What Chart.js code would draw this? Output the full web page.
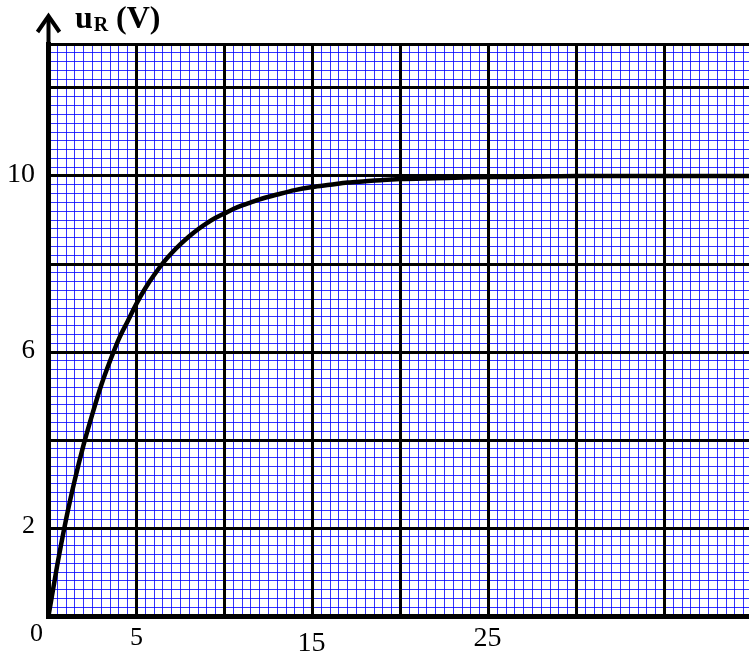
<!DOCTYPE html>
<html>
<head>
<meta charset="utf-8">
<script src="https://cdn.jsdelivr.net/npm/chart.js@4/dist/chart.umd.min.js"></script>
<style>
  html, body { margin: 0; padding: 0; background: #fff; overflow: hidden; }
  canvas { display: block; }
</style>
</head>
<body>
<canvas id="draw-on-me" width="760" height="655"></canvas>
<script>
'use strict';

// time t (x axis) and voltage u_R
const tValues = [0, 0.5, 1, 1.5, 2, 2.5, 3, 3.5, 4, 4.5, 5, 5.5, 6, 6.5, 7, 7.5, 8, 8.5, 9, 9.5, 10,
  10.5, 11, 11.5, 12, 13, 14, 15, 16, 17, 18, 19, 20, 22, 24, 26, 28, 30, 35, 40];
const uValues = [0, 1.16, 2.2, 3.1, 3.9, 4.6, 5.25, 5.8, 6.3, 6.7, 7.1, 7.45, 7.75, 8.02, 8.25, 8.45, 8.63, 8.79, 8.93, 9.05, 9.15,
  9.25, 9.33, 9.4, 9.47, 9.58, 9.68, 9.75, 9.8, 9.85, 9.88, 9.91, 9.93, 9.95, 9.97, 9.98, 9.99, 10, 10, 10];

// tick labels printed on the paper
const xTickLabels = [0, 5, 15, 25];
const yTickLabels = [10, 6, 2];
const axisTitle = { main: 'u', sub: 'R', unit: '(V)' };

const canvasEl = document.getElementById('draw-on-me');
const drawingContext = canvasEl.getContext('2d');

const SERIF = '"Liberation Serif", "Times New Roman", serif';

// hand placed labels are a bit uneven on the original
const xLabelStyle = [
  { dx: -12, base: 25, size: 26 },
  { dx: 0, base: 29, size: 26 },
  { dx: -1, base: 35, size: 28 },
  { dx: -1, base: 30, size: 28 }
];
const yLabelStyle = [
  { base: 6, size: 28 },
  { base: 6, size: 27 },
  { base: 5, size: 26 }
];

const paperLabels = {
  id: 'paperLabels',
  afterDraw(chart) {
    const ctx = chart.ctx;
    const xs = chart.scales.x;
    const ys = chart.scales.y;
    ctx.save();
    ctx.fillStyle = '#000';
    ctx.textBaseline = 'alphabetic';

    ctx.textAlign = 'center';
    xTickLabels.forEach((v, i) => {
      const st = xLabelStyle[i];
      ctx.font = st.size + 'px ' + SERIF;
      ctx.fillText(String(v), xs.getPixelForValue(v) + st.dx, ys.bottom + st.base);
    });

    ctx.textAlign = 'right';
    yTickLabels.forEach((v, i) => {
      const st = yLabelStyle[i];
      ctx.font = st.size + 'px ' + SERIF;
      ctx.fillText(String(v), 35, ys.getPixelForValue(v) + st.base);
    });

    // arrow on the vertical axis
    const ax = xs.left;
    ctx.strokeStyle = '#000';
    ctx.lineWidth = 4;
    ctx.lineCap = 'butt';
    ctx.beginPath();
    ctx.moveTo(ax, ys.top);
    ctx.lineTo(ax, 16);
    ctx.stroke();
    ctx.lineJoin = 'miter';
    ctx.beginPath();
    ctx.moveTo(ax - 11, 32);
    ctx.lineTo(ax, 16);
    ctx.lineTo(ax + 11, 32);
    ctx.stroke();

    // axis title u_R (V)
    ctx.textAlign = 'left';
    ctx.font = 'bold 32px ' + SERIF;
    ctx.fillText(axisTitle.main, 75, 28);
    const uw = ctx.measureText(axisTitle.main).width;
    ctx.font = 'bold 20px ' + SERIF;
    ctx.fillText(axisTitle.sub, 75 + uw + 1, 31);
    ctx.font = 'bold 32px ' + SERIF;
    ctx.fillText(axisTitle.unit, 116, 28);
    ctx.restore();
  }
};

const minorGrid = { color: 'rgba(0, 0, 255, 0.8)', lineWidth: 1, drawTicks: false, z: -2 };
const majorGrid = { color: '#000', lineWidth: 3, drawTicks: false, z: -1 };

let chartObj = new Chart(drawingContext, {
  type: 'line',
  data: {
    datasets: [{
      data: tValues.map((t, i) => ({ x: t, y: uValues[i] })),
      borderColor: '#000',
      borderWidth: 4.5,
      pointRadius: 0,
      fill: false,
      cubicInterpolationMode: 'monotone'
    }]
  },
  options: {
    responsive: false,
    animation: false,
    devicePixelRatio: 1,
    layout: { padding: { left: 48.5, top: 44, right: 7.5, bottom: 39 } },
    plugins: { legend: { display: false }, tooltip: { enabled: false } },
    scales: {
      x: {
        type: 'linear', min: 0, max: 40,
        ticks: { display: false, stepSize: 0.5 },
        grid: minorGrid,
        border: { display: false }
      },
      y: {
        type: 'linear', min: 0, max: 13,
        ticks: { display: false, stepSize: 0.2 },
        grid: minorGrid,
        border: { display: false }
      },
      xMajor: {
        type: 'linear', position: 'bottom', min: 0, max: 40,
        ticks: { display: false, stepSize: 5 },
        grid: majorGrid,
        border: { display: true, color: '#000', width: 5 }
      },
      yMajor: {
        type: 'linear', position: 'left', min: 0, max: 13,
        ticks: { display: false, stepSize: 2 },
        grid: majorGrid,
        border: { display: true, color: '#000', width: 5 }
      }
    }
  },
  plugins: [paperLabels]
});
</script>
</body>
</html>
